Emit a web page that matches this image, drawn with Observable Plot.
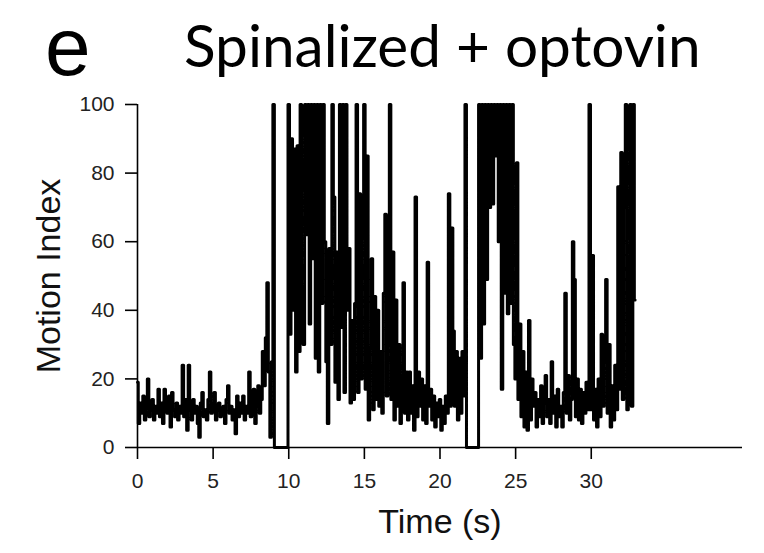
<!DOCTYPE html>
<html>
<head>
<meta charset="utf-8">
<script src="https://cdn.jsdelivr.net/npm/d3@7"></script>
<script src="https://cdn.jsdelivr.net/npm/@observablehq/plot@0.6"></script>
<style>
  html, body { margin: 0; padding: 0; background: #fff; }
  #wrap { position: relative; width: 764px; height: 553px; overflow: hidden; }
  #head { position: relative; width: 764px; height: 90px; }
  #panel { position: absolute; left: 45px; top: 1px; width: 60px; height: 92px; font-family: "Liberation Sans", Arial, sans-serif; font-size: 82px; line-height: 92px; color: #000; }
  #title { position: absolute; left: 184px; top: 4px; height: 80px; font-family: Lato, "Open Sans", sans-serif; font-size: 58.5px; line-height: 80px; color: #000; white-space: nowrap; }
</style>
</head>
<body>
<div id="wrap">
  <div id="head"><div id="panel">e</div><div id="title">Spinalized + optovin</div></div>
  <div id="chart"></div>
</div>
<script>
// Sampling grid of the trace (seconds)
const timeStart = 0;
const timeStep = 0.1;

// Motion index, one row per second (0.1 s samples)
const motionIndex = [
  19, 7, 13, 10, 15, 8, 12, 20, 9, 11,
  14, 8, 12, 10, 17, 9, 13, 7, 17, 11,
  10, 15, 6, 16, 11, 9, 13, 8, 12, 10,
  24, 9, 14, 5, 24, 11, 8, 14, 10, 12,
  7, 3, 13, 16, 9, 11, 8, 14, 22, 10,
  12, 16, 8, 11, 13, 9, 10, 12, 7, 14,
  18, 10, 12, 8, 11, 4, 15, 9, 13, 10,
  15, 8, 12, 10, 22, 9, 11, 17, 7, 12,
  18, 10, 14, 28, 18, 32, 48, 22, 3, 25,
  100, 0, 0, 0, 0, 0, 0, 0, 0, 0,
  100, 33, 90, 40, 87, 22, 88, 28, 100, 45,
  30, 100, 62, 100, 36, 100, 55, 100, 26, 100,
  22, 100, 42, 100, 60, 25, 7, 58, 30, 100,
  73, 19, 57, 14, 100, 35, 100, 16, 100, 40,
  58, 13, 37, 14, 42, 100, 16, 74, 20, 62,
  100, 17, 85, 8, 29, 55, 11, 44, 14, 40,
  12, 28, 10, 45, 68, 15, 30, 100, 14, 57,
  8, 43, 12, 30, 7, 20, 48, 10, 22, 8,
  22, 10, 18, 5, 73, 9, 22, 12, 20, 8,
  18, 7, 54, 12, 17, 8, 15, 6, 13, 9,
  14, 5, 12, 7, 15, 10, 74, 12, 64, 34,
  12, 28, 8, 26, 10, 28, 15, 100, 0, 0,
  0, 0, 0, 0, 0, 0, 100, 26, 100, 36,
  100, 49, 100, 70, 100, 71, 100, 85, 100, 60,
  100, 17, 100, 45, 100, 39, 100, 42, 100, 30,
  20, 83, 14, 36, 9, 28, 6, 22, 5, 37,
  8, 20, 12, 16, 6, 14, 9, 18, 7, 13,
  21, 9, 14, 7, 25, 10, 15, 6, 17, 9,
  12, 6, 16, 45, 10, 21, 8, 14, 60, 49,
  9, 20, 8, 17, 7, 16, 10, 19, 11, 100,
  11, 56, 8, 17, 6, 20, 9, 33, 12, 25,
  49, 10, 30, 6, 18, 8, 24, 11, 76, 17,
  86, 14, 70, 100, 11, 52, 100, 12, 100, 43
];

const xTicks = [0, 5, 10, 15, 20, 25, 30];
const yTicks = [0, 20, 40, 60, 80, 100];
const xDomain = [0, 40];
const yDomain = [0, 100];
const xTitle = "Time (s)";
const yTitle = "Motion Index";

const trace = motionIndex.map((v, i) => ({t: +(timeStart + i * timeStep).toFixed(2), v}));

const chart = Plot.plot({
  width: 764,
  height: 463,
  marginTop: 14,
  marginLeft: 137,
  marginRight: 22,
  marginBottom: 106,
  style: {fontFamily: "'Liberation Sans', Arial, sans-serif", fontSize: "21px", color: "#222", background: "#fff"},
  x: {domain: xDomain},
  y: {domain: yDomain},
  marks: [
    Plot.line(trace, {x: "t", y: "v", stroke: "#000", strokeWidth: 3, curve: "step"}),
    Plot.ruleY([0], {stroke: "#000", strokeWidth: 1.6}),
    Plot.ruleX([0], {stroke: "#000", strokeWidth: 1.6}),
    Plot.axisX({ticks: xTicks, tickSize: 12, tickPadding: 14, label: null, stroke: "#000", strokeWidth: 1.6, fontSize: 21}),
    Plot.axisY({ticks: yTicks, tickSize: 12, tickPadding: 11, label: null, stroke: "#000", strokeWidth: 1.6, fontSize: 21}),
    Plot.text([xTitle], {frameAnchor: "bottom", text: d => d, dy: 85, fontSize: 34, fill: "#111"}),
    Plot.text([yTitle], {frameAnchor: "left", textAnchor: "middle", text: d => d, rotate: -90, dx: -88, fontSize: 34, fill: "#111"})
  ]
});
document.getElementById("chart").appendChild(chart);
</script>
</body>
</html>
